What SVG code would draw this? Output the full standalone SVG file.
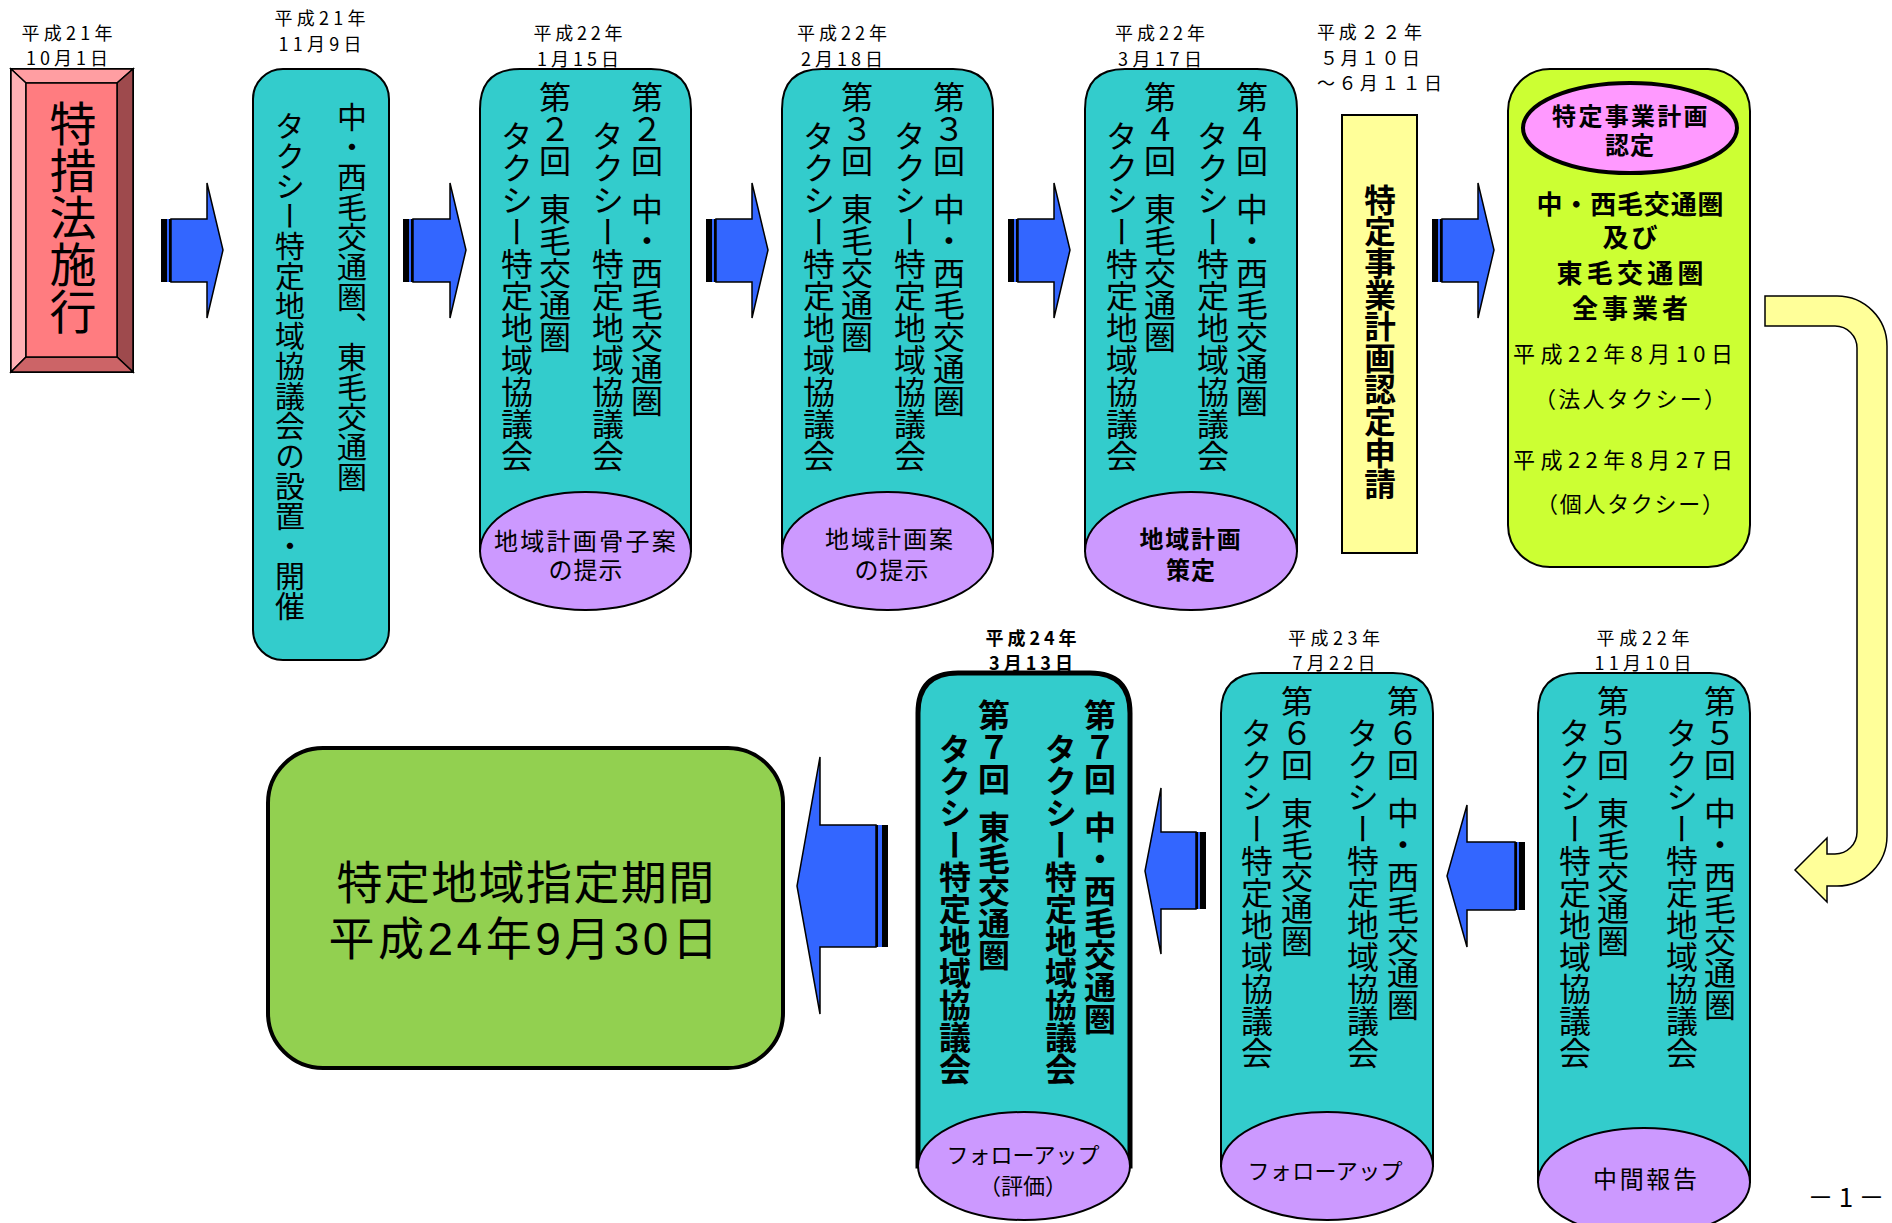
<svg xmlns="http://www.w3.org/2000/svg" width="1892" height="1223" viewBox="0 0 1892 1223">
<style>
text{font-family:"Noto Sans CJK JP","Noto Sans",sans-serif;fill:#000}
text.m{font-family:"Liberation Sans","Noto Sans CJK JP",sans-serif}
.h{dominant-baseline:central;text-anchor:middle}
.v{writing-mode:vertical-rl}
.d{font-size:18px}
.c32{font-size:32px}
.c30{font-size:30px}
.b{font-weight:bold}
.lbl{font-size:24px}
.tq{fill:#33CCCC;stroke:#000;stroke-width:2}
.pu{fill:#CC99FF;stroke:#000;stroke-width:2}
.bl{fill:#3366FF;stroke:#000;stroke-width:1.5}
.k{fill:#000}
</style>
<rect width="1892" height="1223" fill="#fff"/>

<!-- connectors -->
<g id="connectors">
  <g id="a1"><rect x="161" y="219" width="6" height="63" class="k"/><rect x="167" y="219" width="2" height="63" fill="#3366FF"/><rect x="169" y="219" width="2" height="63" class="k"/><polygon class="bl" points="171,219 207,219 207,183 223,250 207,318 207,282 171,282"/></g>
  <g id="a2"><rect x="403" y="219" width="6" height="63" class="k"/><rect x="409" y="219" width="2" height="63" fill="#3366FF"/><rect x="411" y="219" width="2" height="63" class="k"/><polygon class="bl" points="413,219 450,219 450,183 466,250 450,318 450,282 413,282"/></g>
  <g id="a3"><rect x="706" y="219" width="6" height="63" class="k"/><rect x="712" y="219" width="2" height="63" fill="#3366FF"/><rect x="714" y="219" width="2" height="63" class="k"/><polygon class="bl" points="716,219 752,219 752,183 768,250 752,318 752,282 716,282"/></g>
  <g id="a4"><rect x="1008" y="219" width="6" height="63" class="k"/><rect x="1014" y="219" width="2" height="63" fill="#3366FF"/><rect x="1016" y="219" width="2" height="63" class="k"/><polygon class="bl" points="1018,219 1054,219 1054,183 1070,250 1054,318 1054,282 1018,282"/></g>
  <g id="a5"><rect x="1432" y="219" width="6" height="63" class="k"/><rect x="1438" y="219" width="2" height="63" fill="#3366FF"/><rect x="1440" y="219" width="2" height="63" class="k"/><polygon class="bl" points="1442,219 1478,219 1478,183 1494,250 1478,318 1478,282 1442,282"/></g>
  <path id="uturn" d="M1765,296 H1837 A50,50 0 0 1 1887,346 V836 A50,50 0 0 1 1837,886 H1827 V902 L1795,870 L1827,838 V854 H1835 A22,22 0 0 0 1857,832 V348 A22,22 0 0 0 1835,326 H1765 Z" fill="#FFFF99" stroke="#000" stroke-width="1.5"/>
  <g id="b1"><polygon class="bl" points="1515,842 1467,842 1467,805 1447,876 1467,947 1467,910 1515,910"/><rect x="1515" y="842" width="2" height="68" class="k"/><rect x="1517" y="842" width="2" height="68" fill="#3366FF"/><rect x="1519" y="842" width="6" height="68" class="k"/></g>
  <g id="b2"><polygon class="bl" points="1196,832 1161,832 1161,788 1145,871 1161,954 1161,909 1196,909"/><rect x="1196" y="832" width="2" height="77" class="k"/><rect x="1198" y="832" width="2" height="77" fill="#3366FF"/><rect x="1200" y="832" width="6" height="77" class="k"/></g>
  <g id="b3"><polygon class="bl" points="876,825 820,825 820,757 797,886 820,1014 820,947 876,947"/><rect x="876" y="825" width="2" height="122" class="k"/><rect x="878" y="825" width="4" height="122" fill="#3366FF"/><rect x="882" y="825" width="6" height="122" class="k"/></g>
</g>

<!-- node 1: 特措法施行 -->
<g id="n1">
  <text class="h d" x="67" y="32" textLength="91">平成21年</text>
  <text class="h d" x="67" y="57" textLength="82">10月1日</text>
  <rect x="11" y="69" width="122" height="303" fill="#FF7C80" stroke="#000" stroke-width="2"/>
  <polygon points="11,69 133,69 117,83 26,83" fill="#FF9EA2" stroke="#000" stroke-width="1.5"/>
  <polygon points="11,69 26,83 26,357 11,372" fill="#FFB0B4" stroke="#000" stroke-width="1.5"/>
  <polygon points="133,69 133,372 117,357 117,83" fill="#9E4A4D" stroke="#000" stroke-width="1.5"/>
  <polygon points="11,372 26,357 117,357 133,372" fill="#CC6467" stroke="#000" stroke-width="1.5"/>
  <rect x="26" y="83" width="91" height="274" fill="#FF7C80" stroke="#000" stroke-width="1.5"/>
  <text class="v" x="73" y="100" style="font-size:47px">特措法施行</text>
</g>

<!-- node 2 -->
<g id="n2">
  <text class="h d" x="320" y="17" textLength="91">平成21年</text>
  <text class="h d" x="320" y="43" textLength="83">11月9日</text>
  <rect x="253" y="69" width="136" height="591" rx="30" ry="30" class="tq"/>
  <text class="v c30" x="352" y="102">中・西毛交通圏、東毛交通圏</text>
  <text class="v c30" x="290" y="111">タクシー特定地域協議会の設置・開催</text>
</g>

<!-- node 3 -->
<g id="n3">
  <text class="h d" x="578" y="32" textLength="89">平成22年</text>
  <text class="h d" x="578" y="58" textLength="82">1月15日</text>
  <path d="M480,551 V109 Q480,69 520,69 H651 Q691,69 691,109 V551 Z" class="tq"/>
  <text class="v c32" x="647" y="81">第２回</text>
  <text class="v c32" x="647" y="193">中・西毛交通圏</text>
  <text class="v c32" x="608" y="120">タクシー特定地域協議会</text>
  <text class="v c32" x="555" y="81">第２回</text>
  <text class="v c32" x="555" y="193">東毛交通圏</text>
  <text class="v c32" x="517" y="120">タクシー特定地域協議会</text>
  <ellipse cx="585.5" cy="551" rx="105.5" ry="59" class="pu"/>
  <text class="h lbl m"><tspan x="586" y="541" style="letter-spacing:2.3px">地域計画骨子案</tspan><tspan x="586" y="570" style="letter-spacing:1px">の提示</tspan></text>
</g>

<!-- node 4 -->
<g id="n4">
  <text class="h d" x="842" y="32" textLength="90">平成22年</text>
  <text class="h d" x="842" y="58" textLength="82">2月18日</text>
  <path d="M782,551 V109 Q782,69 822,69 H953 Q993,69 993,109 V551 Z" class="tq"/>
  <text class="v c32" x="949" y="81">第３回</text>
  <text class="v c32" x="949" y="193">中・西毛交通圏</text>
  <text class="v c32" x="910" y="120">タクシー特定地域協議会</text>
  <text class="v c32" x="857" y="81">第３回</text>
  <text class="v c32" x="857" y="193">東毛交通圏</text>
  <text class="v c32" x="819" y="120">タクシー特定地域協議会</text>
  <ellipse cx="887.5" cy="551" rx="105.5" ry="59" class="pu"/>
  <text class="h lbl m"><tspan x="890" y="539" style="letter-spacing:2px">地域計画案</tspan><tspan x="892" y="570" style="letter-spacing:1px">の提示</tspan></text>
</g>

<!-- node 5 -->
<g id="n5">
  <text class="h d" x="1160" y="32" textLength="90">平成22年</text>
  <text class="h d" x="1160" y="58" textLength="84">3月17日</text>
  <path d="M1085,551 V109 Q1085,69 1125,69 H1257 Q1297,69 1297,109 V551 Z" class="tq"/>
  <text class="v c32" x="1252" y="81">第４回</text>
  <text class="v c32" x="1252" y="193">中・西毛交通圏</text>
  <text class="v c32" x="1213" y="120">タクシー特定地域協議会</text>
  <text class="v c32" x="1160" y="81">第４回</text>
  <text class="v c32" x="1160" y="193">東毛交通圏</text>
  <text class="v c32" x="1122" y="120">タクシー特定地域協議会</text>
  <ellipse cx="1191" cy="551" rx="106" ry="59" class="pu"/>
  <text class="h lbl b m"><tspan x="1191" y="539" style="letter-spacing:1.8px">地域計画</tspan><tspan x="1191" y="570" style="letter-spacing:1px">策定</tspan></text>
</g>

<!-- node 6: application -->
<g id="n6">
  <text class="d" x="1317" y="38.5" textLength="105">平成２２年</text>
  <text class="d" x="1320" y="64.5" textLength="100">５月１０日</text>
  <text class="d" x="1317" y="89.5" textLength="125">～６月１１日</text>
  <rect x="1342" y="115" width="75" height="438" fill="#FFFF99" stroke="#000" stroke-width="2"/>
  <text class="v b" x="1380" y="184" style="font-size:31.6px">特定事業計画認定申請</text>
</g>

<!-- node 7: approval -->
<g id="n7">
  <rect x="1508" y="69" width="242" height="498" rx="42" ry="42" fill="#CCFF33" stroke="#000" stroke-width="2"/>
  <ellipse cx="1630" cy="128" rx="107" ry="45" fill="#FF99FF" stroke="#000" stroke-width="4"/>
  <text class="h b m" style="font-size:24px"><tspan x="1631" y="116" style="letter-spacing:2.3px">特定事業計画</tspan><tspan x="1630" y="145" style="letter-spacing:1px">認定</tspan></text>
  <text class="h b m" x="1630" y="205" style="font-size:26px" textLength="187">中・西毛交通圏</text>
  <text class="h b m" x="1630" y="238" style="font-size:26px" textLength="55">及び</text>
  <text class="h b m" x="1630" y="274" style="font-size:26px" textLength="147">東毛交通圏</text>
  <text class="h b m" x="1630" y="309" style="font-size:26px" textLength="116">全事業者</text>
  <text class="h" x="1623" y="352" style="font-size:22px" textLength="220">平成22年8月10日</text>
  <text class="h" x="1630" y="397" style="font-size:22px" textLength="192">（法人タクシー）</text>
  <text class="h" x="1623" y="458" style="font-size:22px" textLength="220">平成22年8月27日</text>
  <text class="h" x="1630" y="502" style="font-size:22px" textLength="188">（個人タクシー）</text>
</g>

<!-- node 8: 5th -->
<g id="n8">
  <text class="h d" x="1643" y="637" textLength="93">平成22年</text>
  <text class="h d" x="1643" y="662" textLength="97">11月10日</text>
  <path d="M1538,1182 V713 Q1538,673 1578,673 H1710 Q1750,673 1750,713 V1182 Z" class="tq"/>
  <text class="v c32" x="1720" y="685">第５回</text>
  <text class="v c32" x="1720" y="797">中・西毛交通圏</text>
  <text class="v c32" x="1682" y="717">タクシー特定地域協議会</text>
  <text class="v c32" x="1613" y="685">第５回</text>
  <text class="v c32" x="1613" y="797">東毛交通圏</text>
  <text class="v c32" x="1575" y="717">タクシー特定地域協議会</text>
  <ellipse cx="1644" cy="1182" rx="106" ry="54" class="pu"/>
  <text class="h lbl" x="1645" y="1177" textLength="104">中間報告</text>
</g>

<!-- node 9: 6th -->
<g id="n9">
  <text class="h d" x="1334" y="637" textLength="92">平成23年</text>
  <text class="h d" x="1334" y="662" textLength="83">7月22日</text>
  <path d="M1221,1166 V713 Q1221,673 1261,673 H1393 Q1433,673 1433,713 V1166 Z" class="tq"/>
  <text class="v c32" x="1403" y="685">第６回</text>
  <text class="v c32" x="1403" y="797">中・西毛交通圏</text>
  <text class="v c32" x="1363" y="717">タクシー特定地域協議会</text>
  <text class="v c32" x="1297" y="685">第６回</text>
  <text class="v c32" x="1297" y="797">東毛交通圏</text>
  <text class="v c32" x="1257" y="717">タクシー特定地域協議会</text>
  <ellipse cx="1327" cy="1166" rx="106" ry="54" class="pu"/>
  <text class="h" x="1325" y="1169" style="font-size:22px" textLength="155">フォローアップ</text>
</g>

<!-- node 10: 7th -->
<g id="n10">
  <text class="h d b" x="1031" y="637" textLength="91">平成24年</text>
  <text class="h d b" x="1031" y="662" textLength="84">3月13日</text>
  <path d="M918,1166 V713 Q918,673 958,673 H1090 Q1130,673 1130,713 V1166 Z" fill="#33CCCC" stroke="#000" stroke-width="5"/>
  <text class="v c32 b" x="1100" y="699">第７回</text>
  <text class="v c32 b" x="1100" y="811">中・西毛交通圏</text>
  <text class="v c32 b" x="1061" y="733">タクシー特定地域協議会</text>
  <text class="v c32 b" x="994" y="699">第７回</text>
  <text class="v c32 b" x="994" y="811">東毛交通圏</text>
  <text class="v c32 b" x="955" y="733">タクシー特定地域協議会</text>
  <ellipse cx="1024" cy="1166" rx="106" ry="54" class="pu"/>
  <text class="h m" style="font-size:22px"><tspan x="1023" y="1155">フォローアップ</tspan><tspan x="1023" y="1186">（評価）</tspan></text>
</g>

<!-- node 11: period -->
<g id="n11">
  <rect x="268" y="748" width="515" height="320" rx="55" ry="55" fill="#92D050" stroke="#000" stroke-width="4"/>
  <text class="h m" style="font-size:46px"><tspan x="526" y="883" style="letter-spacing:1.4px">特定地域指定期間</tspan><tspan x="525" y="939" style="letter-spacing:3.5px">平成24年9月30日</tspan></text>
</g>

<text class="h" x="1846" y="1195" style="font-size:26px" textLength="77">－1－</text>
</svg>
